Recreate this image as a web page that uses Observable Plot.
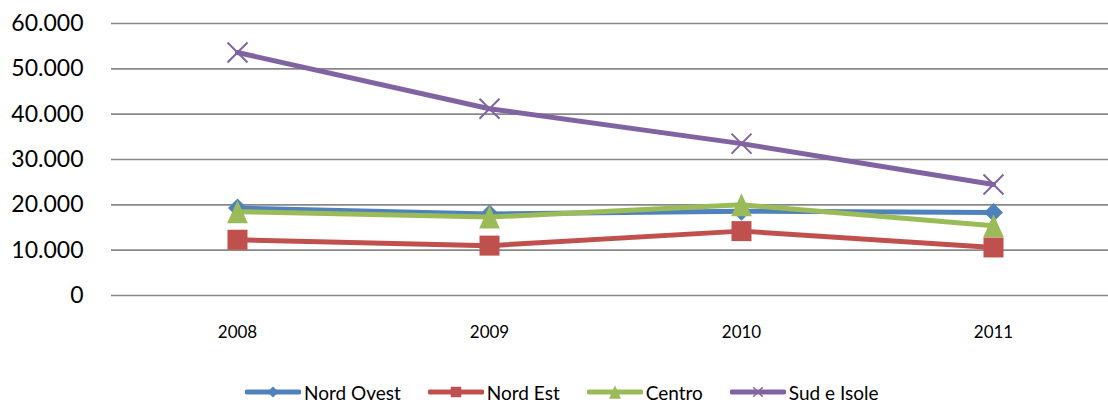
<!DOCTYPE html>
<html>
<head>
<meta charset="utf-8">
<script src="https://cdn.jsdelivr.net/npm/d3@7"></script>
<script src="https://cdn.jsdelivr.net/npm/@observablehq/plot@0.6"></script>
<style>
  html, body { margin: 0; padding: 0; background: #fff; }
  body { width: 1108px; height: 402px; overflow: hidden; font-family: Lato, "Open Sans", sans-serif; }
  #legend { display: flex; align-items: center; gap: 27px; padding-left: 245px; padding-top: 20px; height: 20px; font-size: 19px; color: #000; }
  .item { display: flex; align-items: center; gap: 3px; }
</style>
</head>
<body>
<div id="chart"></div>
<div id="legend"></div>
<script>
const years = ["2008", "2009", "2010", "2011"];
const seriesNames = ["Nord Ovest", "Nord Est", "Centro", "Sud e Isole"];
const nordOvest = [19300, 18000, 18600, 18300];
const nordEst = [12300, 11000, 14200, 10600];
const centro = [18500, 17300, 20000, 15400];
const sudIsole = [53600, 41200, 33500, 24500];
const seriesColors = ["#4F81BD", "#C0504D", "#9BBB59", "#8064A2"];
const yTicks = [0, 10000, 20000, 30000, 40000, 50000, 60000];

const values = [nordOvest, nordEst, centro, sudIsole];
const data = seriesNames.flatMap((s, i) => years.map((y, j) => ({series: s, year: y, value: values[i][j]})));

const itFmt = d3.formatLocale({decimal: ",", thousands: ".", grouping: [3], currency: ["€", ""]}).format(",");

// custom marker shapes (Excel-like)
const diamondSym = {draw(ctx, size) { const r = Math.sqrt(size / 2); ctx.moveTo(0, -r); ctx.lineTo(r, 0); ctx.lineTo(0, r); ctx.lineTo(-r, 0); ctx.closePath(); }};
const squareSym = {draw(ctx, size) { const a = Math.sqrt(size) / 2; ctx.rect(-a, -a, 2 * a, 2 * a); }};
const triangleSym = {draw(ctx, size) { const h = Math.sqrt(size * 2 / 0.9); const w = 0.9 * h; ctx.moveTo(0, -h / 2); ctx.lineTo(w / 2, h / 2); ctx.lineTo(-w / 2, h / 2); ctx.closePath(); }};
const crossSym = {draw(ctx, size) { const a = Math.sqrt(size) / 2; ctx.moveTo(-a, -a); ctx.lineTo(a, a); ctx.moveTo(-a, a); ctx.lineTo(a, -a); }};
const symbols = [diamondSym, squareSym, triangleSym, crossSym];
const rOf = area => Math.sqrt(area / Math.PI);
const markerAreas = [180, 400, 238, 400];

const marks = [
  Plot.gridY(yTicks, {stroke: "#888888", strokeOpacity: 1, strokeWidth: 1.6}),
  Plot.axisY(yTicks, {tickSize: 0, tickPadding: 28, tickFormat: itFmt, fontSize: 23}),
  Plot.axisX({tickSize: 0, tickPadding: 30, fontSize: 17})
];
seriesNames.forEach((s, i) => {
  const d = data.filter(r => r.series === s);
  marks.push(Plot.line(d, {x: "year", y: "value", stroke: seriesColors[i], strokeWidth: 5, strokeLinejoin: "round", strokeLinecap: "round"}));
  if (i === 3) {
    marks.push(Plot.dot(d, {x: "year", y: "value", symbol: symbols[i], r: rOf(markerAreas[i]), fill: "none", stroke: seriesColors[i], strokeWidth: 2}));
  } else {
    marks.push(Plot.dot(d, {x: "year", y: "value", symbol: symbols[i], r: rOf(markerAreas[i]), fill: seriesColors[i], stroke: "none"}));
  }
});

const chart = Plot.plot({
  width: 1108,
  height: 362,
  marginTop: 23,
  marginBottom: 67,
  marginLeft: 111,
  marginRight: 0,
  style: {fontFamily: "Lato, 'Open Sans', sans-serif", color: "#000", background: "#fff"},
  x: {type: "point", domain: years, range: [237, 993], padding: 0, label: null},
  y: {domain: [0, 60000], label: null},
  marks
});
document.getElementById("chart").appendChild(chart);

// legend
const legend = document.getElementById("legend");
const legendAreas = [60, 110, 80, 90];
seriesNames.forEach((s, i) => {
  const item = document.createElement("div");
  item.className = "item";
  const svg = d3.create("svg").attr("width", 56).attr("height", 20);
  svg.append("line").attr("x1", 2).attr("x2", 54).attr("y1", 10).attr("y2", 10)
    .attr("stroke", seriesColors[i]).attr("stroke-width", 5).attr("stroke-linecap", "round");
  svg.append("path").attr("transform", "translate(28,10)")
    .attr("d", d3.symbol(symbols[i], legendAreas[i])())
    .attr("fill", i === 3 ? "none" : seriesColors[i])
    .attr("stroke", i === 3 ? seriesColors[i] : "none")
    .attr("stroke-width", 1.5);
  item.appendChild(svg.node());
  const t = document.createElement("span");
  t.textContent = s;
  item.appendChild(t);
  legend.appendChild(item);
});
</script>
</body>
</html>
